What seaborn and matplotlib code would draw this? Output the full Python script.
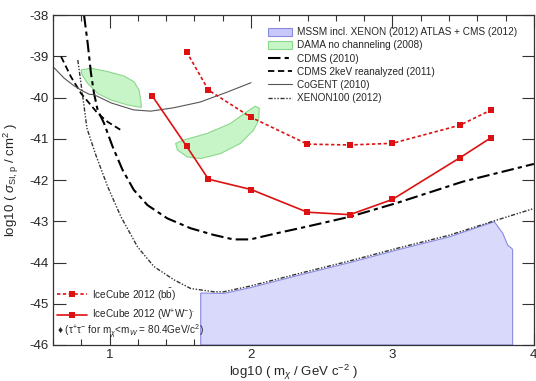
import matplotlib
matplotlib.use("Agg")
import matplotlib.pyplot as plt
import seaborn as sns
import pandas as pd
import numpy as np
from matplotlib.patches import Patch
from matplotlib.ticker import MultipleLocator, FuncFormatter

# --- data (log10 mass vs log10 cross section) ---
mass_bb = [1.544, 1.699, 2.0, 2.398, 2.699, 3.0, 3.477, 3.699]
sigma_bb = [-38.89, -39.82, -40.48, -41.13, -41.15, -41.11, -40.67, -40.30]

mass_ww = [1.301, 1.544, 1.699, 2.0, 2.398, 2.699, 3.0, 3.477, 3.699]
sigma_ww = [-39.96, -41.18, -41.98, -42.23, -42.78, -42.84, -42.47, -41.46, -40.97]

cdms_x = [0.819, 0.845, 0.868, 0.889, 0.915, 0.96, 1.021, 1.092, 1.171, 1.268,
          1.408, 1.573, 1.735, 1.875, 1.995, 2.183, 2.394, 2.699, 3.028, 3.497, 4.0]
cdms_y = [-38.0, -38.69, -39.41, -39.89, -40.30, -40.62, -41.19, -41.76, -42.24, -42.61,
          -42.93, -43.17, -43.33, -43.44, -43.44, -43.29, -43.13, -42.89, -42.56, -42.04, -41.61]

cdms2kev_x = [0.657, 0.727, 0.798, 0.915, 0.986, 1.08]
cdms2kev_y = [-39.01, -39.50, -39.90, -40.38, -40.59, -40.79]

cogent_x = [0.608, 0.678, 0.742, 0.798, 0.854, 0.889, 1.01, 1.17, 1.29, 1.45, 1.64, 1.83, 2.0]
cogent_y = [-39.28, -39.53, -39.70, -39.82, -39.92, -39.93, -40.13, -40.30, -40.33, -40.25,
            -40.11, -39.87, -39.64]

xenon_x = [0.775, 0.81, 0.84, 0.903, 0.986, 1.08, 1.197, 1.314, 1.455, 1.573, 1.737,
           1.807, 1.995, 2.347, 2.70, 3.028, 3.40, 3.72, 4.0]
xenon_y = [-39.09, -39.98, -40.75, -41.40, -42.16, -42.89, -43.62, -44.10, -44.42, -44.63,
           -44.71, -44.71, -44.57, -44.26, -43.96, -43.66, -43.34, -42.99, -42.69]

mssm_x = [1.644, 1.644, 1.807, 1.995, 2.347, 2.70, 3.028, 3.40, 3.72, 3.78, 3.815, 3.845, 3.85, 3.85]
mssm_y = [-46.0, -44.74, -44.75, -44.61, -44.30, -44.00, -43.70, -43.38, -43.01, -43.29,
          -43.58, -43.66, -43.70, -46.0]

dama1_x = [0.798, 0.868, 0.986, 1.103, 1.173, 1.208, 1.22, 1.225, 1.127, 1.009, 0.915, 0.845, 0.805]
dama1_y = [-39.33, -39.29, -39.37, -39.48, -39.62, -39.82, -40.06, -40.24, -40.18, -40.06,
           -39.90, -39.66, -39.45]

dama2_x = [1.467, 1.525, 1.69, 1.854, 1.972, 2.03, 2.058, 2.054, 2.018, 1.925, 1.784, 1.643, 1.549, 1.479]
dama2_y = [-41.11, -41.03, -40.87, -40.63, -40.34, -40.21, -40.26, -40.55, -40.79, -41.11,
           -41.36, -41.48, -41.44, -41.27]

# --- style ---
sns.set_theme(style="ticks")
plt.rcParams['font.family'] = ['Liberation Sans', 'DejaVu Sans']
plt.rcParams['mathtext.fontset'] = 'custom'
plt.rcParams['mathtext.rm'] = 'Liberation Sans'
plt.rcParams['mathtext.it'] = 'Liberation Sans:italic'
plt.rcParams['mathtext.bf'] = 'Liberation Sans:bold'

fig = plt.figure(figsize=(5.36, 3.81), dpi=100)
ax = fig.add_axes([0.099, 0.0945, 0.897, 0.866])

red = '#dd1111'
legend_fs = 7.2

# shaded regions
ax.fill(mssm_x, mssm_y, facecolor='#d9d9fb', edgecolor='#8a8ae0', lw=0.8, zorder=1)
ax.fill(dama1_x, dama1_y, facecolor='#c8f5c8', edgecolor='#8ad88a', lw=0.8, zorder=1)
ax.fill(dama2_x, dama2_y, facecolor='#c8f5c8', edgecolor='#8ad88a', lw=0.8, zorder=1)

def curve(x, y, **kw):
    df = pd.DataFrame({'x': x, 'y': y})
    sns.lineplot(data=df, x='x', y='y', sort=False, estimator=None, ax=ax, **kw)

curve(cdms_x, cdms_y, color='black', lw=1.5, dashes=(6, 2, 2, 2), label='CDMS (2010)')
curve(cdms2kev_x, cdms2kev_y, color='black', lw=1.3, dashes=(3.5, 2), label='CDMS 2keV reanalyzed (2011)')
curve(cogent_x, cogent_y, color='#555555', lw=0.8, label='CoGENT (2010)')
curve(xenon_x, xenon_y, color='#333333', lw=1.0, dashes=(3, 1.2, 1, 1.2, 1, 1.2), label='XENON100 (2012)')

curve(mass_bb, sigma_bb, color=red, lw=1.2, dashes=(2, 1.5), marker='s', markersize=4,
      markeredgewidth=0, label='IceCube 2012 (b$\\bar{\\rm b}$)')
curve(mass_ww, sigma_ww, color=red, lw=1.2, marker='s', markersize=4,
      markeredgewidth=0, label='IceCube 2012 (W$^{+}$W$^{-}$)$^{\\bullet}$')

ax.set_xlim(0.6, 4.0)
ax.set_ylim(-46, -38)
ax.xaxis.set_major_locator(MultipleLocator(1))
ax.xaxis.set_minor_locator(MultipleLocator(0.2))
ax.yaxis.set_major_locator(MultipleLocator(1))
ax.tick_params(axis='both', which='major', direction='in', length=9, width=0.8,
               top=True, right=True, labelsize=9.5, pad=3, color='#333333')
ax.tick_params(axis='x', which='minor', direction='in', length=4, width=0.8,
               top=True, color='#333333')
ax.xaxis.set_major_formatter(FuncFormatter(lambda v, p: f"{v:.0f}"))
ax.yaxis.set_major_formatter(FuncFormatter(lambda v, p: f"-{abs(v):.0f}"))
for s in ax.spines.values():
    s.set_linewidth(0.9)
    s.set_color('#333333')

ax.set_xlabel('log10 ( m$_\\chi$ / GeV c$^{-2}$ )', fontsize=9.5, labelpad=1)
ax.set_ylabel('log10 ( $\\sigma_{\\rm SI,p}$ / cm$^{2}$ )', fontsize=9.5, labelpad=6)

# legends
handles, labels = ax.get_legend_handles_labels()
hmap = dict(zip(labels, handles))
top_handles = [Patch(facecolor='#c8c8fa', edgecolor='#8a8ae0', lw=0.8),
               Patch(facecolor='#c8f5c8', edgecolor='#8ad88a', lw=0.8)] + \
              [hmap[l] for l in labels[:4]]
top_labels = ['MSSM incl. XENON (2012) ATLAS + CMS (2012)', 'DAMA no channeling (2008)'] + labels[:4]
leg1 = ax.legend(top_handles, top_labels, loc='upper left', bbox_to_anchor=(0.439, 0.975),
                 frameon=False, fontsize=legend_fs, handlelength=2.4, handleheight=0.85,
                 handletextpad=0.5, labelspacing=0.32, borderaxespad=0)
ax.add_artist(leg1)
ax.legend([hmap[l] for l in labels[4:]], labels[4:], loc='lower left',
          bbox_to_anchor=(0.0, 0.055), frameon=False, fontsize=legend_fs, handlelength=3.0,
          handletextpad=0.5, labelspacing=0.6, borderaxespad=0)
ax.text(0.008, 0.04, '\u2666 (\u03c4$^{+}$\u03c4$^{-}$ for m$_\\chi$<m$_W$ = 80.4GeV/c$^{2}$)',
        transform=ax.transAxes, fontsize=legend_fs, va='center', ha='left')

fig.savefig('out.png', dpi=100)
